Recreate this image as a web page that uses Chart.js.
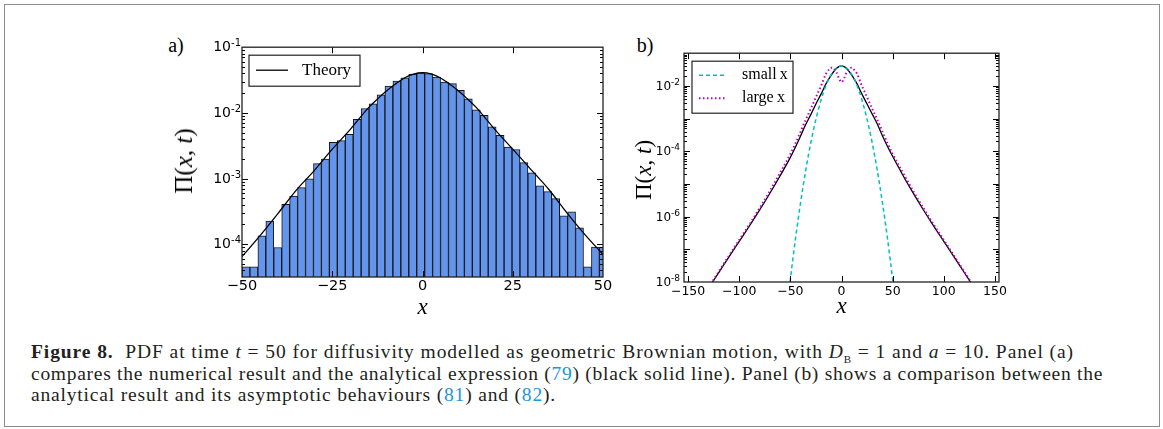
<!DOCTYPE html>
<html>
<head>
<meta charset="utf-8">
<script src="https://cdn.jsdelivr.net/npm/chart.js@4.4.1/dist/chart.umd.min.js"></script>
<style>
  body { margin: 0; width: 1163px; height: 429px; background: #fff; position: relative; overflow: hidden; }
  #frame { position: absolute; left: 4px; top: 4px; width: 1156px; height: 423px; border: 1.5px solid #8c8c8c; box-sizing: border-box; }
  canvas { position: absolute; }
  .plab { position: absolute; font: 20px 'Liberation Serif', serif; color: #000; transform: translate(-50%, -50%); }
  .ytitle { position: absolute; font-family: 'Liberation Serif', serif; white-space: nowrap; color: #000;
            transform: translate(-50%, -50%) rotate(-90deg); }
  #caption { position: absolute; left: 31px; top: 341px; font: 19.5px 'Liberation Serif', serif; color: #231f20; }
  #caption .cl { height: 21.7px; line-height: 21.7px; white-space: nowrap; }
  #caption .cl span.w { display: inline-block; }
  #caption .ref { color: #1b96d6; }
  #caption sub { font-size: 11px; line-height: 0; }
</style>
</head>
<body>
<div id="frame"></div>
<div class="plab" style="left:176px;top:45px">a)</div>
<div class="plab" style="left:645px;top:45px">b)</div>
<canvas id="chartA" width="467" height="285" style="left:150px;top:37px"></canvas>
<canvas id="chartB" width="413" height="279" style="left:600px;top:43px"></canvas>
<div class="ytitle" style="left:184px;top:161px;font-size:25px">Π(<i>x</i>, <i>t</i>)</div>
<div class="ytitle" style="left:644px;top:170px;font-size:23px">Π(<i>x</i>, <i>t</i>)</div>
<div id="caption">
  <div class="cl"><span class="w" data-w="1043"><b>Figure 8.</b>&nbsp; PDF at time <i>t</i> = 50 for diffusivity modelled as geometric Brownian motion, with <i>D</i><sub>B</sub> = 1 and <i>a</i> = 10. Panel (a)</span></div>
  <div class="cl"><span class="w" data-w="1072">compares the numerical result and the analytical expression (<span class="ref">79</span>) (black solid line). Panel (b) shows a comparison between the</span></div>
  <div class="cl"><span class="w" data-w="525">analytical result and its asymptotic behaviours (<span class="ref">81</span>) and (<span class="ref">82</span>).</span></div>
</div>
<script>
// panel (a): histogram of the simulated x at t = 50
const binCenters = [-48.9, -46.7, -44.5, -42.3, -40.1, -37.9, -35.7, -33.5, -31.3, -29.1, -26.9, -24.7,
    -22.5, -20.3, -18.1, -15.9, -13.7, -11.5, -9.3, -7.1, -4.9, -2.7, -0.5, 1.7, 3.9, 6.1, 8.3, 10.5,
    12.7, 14.9, 17.1, 19.3, 21.5, 23.7, 25.9, 28.1, 30.3, 32.5, 34.7, 36.9, 39.1, 41.3, 43.5, 45.7, 47.9, 50.1];
const binHeights = [4.5e-5, 4.5e-5, 1.34e-4, 2.24e-4, 8.9e-5, 4.04e-4, 5.42e-4, 7.26e-4, 9.86e-4, 1.69e-3,
    1.97e-3, 3.55e-3, 3.77e-3, 4.71e-3, 7.98e-3, 0.01164, 0.01371, 0.01884, 0.02558, 0.0305, 0.0343, 0.0391,
    0.0405, 0.0395, 0.0351, 0.0294, 0.0278, 0.0220, 0.01637, 0.01111, 9.2e-3, 6.10e-3, 4.54e-3, 3.01e-3,
    2.77e-3, 1.75e-3, 1.22e-3, 7.71e-4, 6.31e-4, 4.93e-4, 2.70e-4, 3.11e-4, 1.77e-4, 4.5e-5, 9.06e-5, 9.06e-5];

// analytical PDF (black line, both panels)
const theoryX = [-130, -120, -110, -100, -90, -80, -70, -60, -50, -45, -40, -35, -30, -25, -20, -15, -12.5, -10,
    -7.5, -5, -2.5, 0, 2.5, 5, 7.5, 10, 12.5, 15, 20, 25, 30, 35, 40, 45, 50, 60, 70, 80, 90, 100, 110, 120, 130];
const theoryY = [6.5e-9, 1.95e-8, 5.9e-8, 1.75e-7, 5.2e-7, 1.6e-6, 5.2e-6, 1.78e-5, 6.5e-5, 1.35e-4, 2.95e-4,
    6.6e-4, 1.32e-3, 2.8e-3, 5.6e-3, 0.0119, 0.0162, 0.0215, 0.0275, 0.034, 0.039, 0.041, 0.039, 0.034, 0.0275,
    0.0215, 0.0162, 0.0119, 5.6e-3, 2.8e-3, 1.38e-3, 6.8e-4, 3.0e-4, 1.4e-4, 7.0e-5, 1.85e-5, 5.3e-6, 1.62e-6,
    5.2e-7, 1.75e-7, 5.9e-8, 1.95e-8, 6.5e-9];

// panel (b): asymptotic forms
const smallX = [-55, -50, -45, -40, -35, -30, -25, -20, -15, -10, -5, 0, 5, 10, 15, 20, 25, 30, 35, 40, 45, 50, 55];
const smallY = [5.2e-10, 1.2e-8, 2.1e-7, 2.7e-6, 2.6e-5, 1.83e-4, 9.6e-4, 3.7e-3, 0.0106, 0.0225, 0.0352, 0.041,
    0.0352, 0.0225, 0.0106, 3.7e-3, 9.6e-4, 1.83e-4, 2.6e-5, 2.7e-6, 2.1e-7, 1.2e-8, 5.2e-10];
const largeX = [-130, -120, -110, -100, -90, -80, -70, -60, -50, -45, -40, -35, -30, -25, -20, -15, -12.5, -10,
    -7.5, -5, -2.5, 0, 2.5, 5, 7.5, 10, 12.5, 15, 20, 25, 30, 35, 40, 45, 50, 60, 70, 80, 90, 100, 110, 120, 130];
const largeY = [6.8e-9, 2.07e-8, 6.4e-8, 1.93e-7, 5.8e-7, 1.84e-6, 6.1e-6, 2.2e-5, 8.3e-5, 1.75e-4, 4.0e-4, 9.2e-4,
    2.0e-3, 4.5e-3, 0.010, 0.024, 0.031, 0.036, 0.034, 0.026, 0.017, 0.013, 0.017, 0.026, 0.034, 0.036, 0.031,
    0.024, 0.010, 4.5e-3, 2.0e-3, 9.2e-4, 4.0e-4, 1.75e-4, 8.3e-5, 2.2e-5, 6.1e-6, 1.84e-6, 5.8e-7, 1.93e-7,
    6.4e-8, 2.07e-8, 6.8e-9];

const xTicksA = [-50, -25, 0, 25, 50];
const xTicksB = [-150, -100, -50, 0, 50, 100, 150];

// spread each caption line out to the width it has in the figure
document.querySelectorAll('#caption .w').forEach(el => {
    const w = el.getBoundingClientRect().width;
    const n = el.textContent.length;
    el.style.letterSpacing = ((el.dataset.w - w) / n) + 'px';
});

function pairs(xs, ys) {
    return xs.map((x, i) => ({ x, y: ys[i] }));
}

function isPow10(v) {
    const l = Math.log10(v);
    return Math.abs(l - Math.round(l)) < 1e-6;
}

const minusLabel = v => (v < 0 ? '\u2212' + Math.abs(v) : String(v));

// inward ticks on all four sides + black frame, matplotlib style
const axisDecor = {
    id: 'axisDecor',
    afterDatasetsDraw(chart, args, opts) {
        const { ctx, chartArea: a, scales: { x, y } } = chart;
        ctx.save();
        ctx.strokeStyle = '#000';
        ctx.lineWidth = 1;
        ctx.beginPath();
        opts.xTicks.forEach(v => {
            if (v <= x.min || v >= x.max) return;
            const px = Math.round(x.getPixelForValue(v)) + 0.5;
            ctx.moveTo(px, a.bottom); ctx.lineTo(px, a.bottom - 6);
            ctx.moveTo(px, a.top); ctx.lineTo(px, a.top + 6);
        });
        y.ticks.forEach(t => {
            const v = t.value;
            if (v <= y.min * 1.0001 || v >= y.max * 0.9999) return;
            const l = Math.log10(v);
            const mant = v / Math.pow(10, Math.floor(l + 1e-9));
            if (Math.abs(mant - Math.round(mant)) > 1e-6) return;
            const len = isPow10(v) ? 6 : 3;
            const py = Math.round(y.getPixelForValue(v)) + 0.5;
            ctx.moveTo(a.left, py); ctx.lineTo(a.left + len, py);
            ctx.moveTo(a.right, py); ctx.lineTo(a.right - len, py);
        });
        ctx.stroke();
        ctx.lineWidth = 1.3;
        ctx.strokeStyle = '#222';
        ctx.strokeRect(a.left, a.top, a.width, a.height);
        ctx.restore();
    }
};

// y tick labels as 10 with a raised exponent
const powLabels = {
    id: 'powLabels',
    afterDraw(chart, args, o) {
        const { ctx, chartArea: a, scales: { y } } = chart;
        ctx.save();
        ctx.fillStyle = '#000';
        ctx.textAlign = 'right';
        ctx.textBaseline = 'alphabetic';
        y.ticks.forEach(t => {
            const v = t.value;
            if (!isPow10(v)) return;
            const e = Math.round(Math.log10(v));
            if (e % o.every !== 0) return;
            const py = y.getPixelForValue(v);
            const right = a.left - o.pad;
            const expTxt = String(e);
            ctx.font = o.expFont;
            const ew = ctx.measureText(expTxt).width;
            ctx.fillText(expTxt, right, py + o.expDy);
            ctx.font = o.baseFont;
            ctx.fillText('10', right - ew, py + o.baseDy);
        });
        ctx.restore();
    }
};

// legend with a box round it
const boxLegend = {
    id: 'boxLegend',
    afterDraw(chart, args, o) {
        if (!o.items) return;
        const { ctx, chartArea: a } = chart;
        const bx = a.left + o.x, by = a.top + o.y;
        ctx.save();
        ctx.fillStyle = '#fff';
        ctx.fillRect(bx, by, o.w, o.h);
        ctx.strokeStyle = '#222';
        ctx.lineWidth = 1.2;
        ctx.strokeRect(bx, by, o.w, o.h);
        o.items.forEach((idx, i) => {
            const ds = chart.data.datasets[idx];
            const ly = by + o.rows[i];
            ctx.strokeStyle = ds.borderColor;
            ctx.lineWidth = ds.borderWidth;
            ctx.setLineDash(ds.borderDash || []);
            ctx.beginPath();
            ctx.moveTo(bx + o.line[0], ly);
            ctx.lineTo(bx + o.line[1], ly);
            ctx.stroke();
            ctx.setLineDash([]);
            ctx.fillStyle = '#000';
            ctx.font = o.font;
            ctx.textBaseline = 'middle';
            ctx.fillText(ds.label, bx + o.textX, ly);
        });
        ctx.restore();
    }
};

const tickFontA = { family: 'DejaVu Sans', size: 14.5 };
const tickFontB = { family: 'DejaVu Sans', size: 12.5 };
const titleFont = { family: 'Liberation Serif', style: 'italic', size: 23 };

new Chart(document.getElementById('chartA'), {
    type: 'bar',
    data: {
        datasets: [{
            type: 'line',
            label: 'Theory',
            data: pairs(theoryX, theoryY),
            borderColor: '#000',
            borderWidth: 1.3,
            pointRadius: 0,
            cubicInterpolationMode: 'monotone',
            order: 0
        }, {
            type: 'bar',
            label: 'hist',
            data: pairs(binCenters, binHeights),
            backgroundColor: '#6495ed',
            borderColor: '#151515',
            borderWidth: 1,
            barPercentage: 1,
            categoryPercentage: 1,
            order: 1
        }]
    },
    options: {
        responsive: false,
        animation: false,
        layout: { padding: { top: 10, right: 14, left: 0, bottom: 0 } },
        plugins: {
            legend: { display: false },
            tooltip: { enabled: false },
            axisDecor: { xTicks: xTicksA },
            powLabels: { every: 1, pad: 1, baseFont: '14px "DejaVu Sans"', expFont: '10px "DejaVu Sans"', baseDy: 4, expDy: -1 },
            boxLegend: { items: [0], x: 7, y: 8, w: 111, h: 31, rows: [15], line: [7, 39], textX: 53, font: '17px "Liberation Serif"' }
        },
        scales: {
            x: {
                type: 'linear',
                min: -50,
                max: 50,
                offset: false,
                grid: { display: false, drawTicks: false },
                border: { display: false },
                afterBuildTicks: s => { s.ticks = xTicksA.map(v => ({ value: v })); },
                afterFit: s => { s.height = 45; },
                ticks: { color: '#000', font: tickFontA, padding: 1, maxRotation: 0, callback: minusLabel },
                title: { display: true, text: 'x', color: '#000', font: titleFont, padding: { top: 0, bottom: 0 } }
            },
            y: {
                type: 'logarithmic',
                min: Math.pow(10, -4.5),
                max: 0.1,
                grid: { display: false, drawTicks: false },
                border: { display: false },
                afterFit: s => { s.width = 92; },
                ticks: { autoSkip: false, callback: () => '' }
            }
        }
    },
    plugins: [axisDecor, powLabels, boxLegend]
});

new Chart(document.getElementById('chartB'), {
    type: 'line',
    data: {
        datasets: [{
            label: 'Theory',
            data: pairs(theoryX, theoryY),
            borderColor: '#000',
            borderWidth: 1.3,
            pointRadius: 0,
            cubicInterpolationMode: 'monotone',
            order: 3
        }, {
            label: 'small\u2009x',
            data: pairs(smallX, smallY),
            borderColor: '#00bfbf',
            borderWidth: 1.5,
            borderDash: [4, 3],
            pointRadius: 0,
            cubicInterpolationMode: 'monotone',
            order: 2
        }, {
            label: 'large\u2009x',
            data: pairs(largeX, largeY),
            borderColor: '#bf00bf',
            borderWidth: 2,
            borderDash: [1.5, 2.5],
            pointRadius: 0,
            cubicInterpolationMode: 'monotone',
            order: 1
        }]
    },
    options: {
        responsive: false,
        animation: false,
        layout: { padding: { top: 10, right: 14, left: 0, bottom: 0 } },
        plugins: {
            legend: { display: false },
            tooltip: { enabled: false },
            axisDecor: { xTicks: xTicksB },
            powLabels: { every: 2, pad: 4, baseFont: '12px "DejaVu Sans"', expFont: '9px "DejaVu Sans"', baseDy: 4, expDy: -1 },
            boxLegend: { items: [1, 2], x: 8, y: 8, w: 101, h: 52, rows: [14, 37], line: [7, 35], textX: 50, font: '16px "Liberation Serif"' }
        },
        scales: {
            x: {
                type: 'linear',
                min: -154,
                max: 154,
                grid: { display: false, drawTicks: false },
                border: { display: false },
                afterBuildTicks: s => { s.ticks = xTicksB.map(v => ({ value: v })); },
                afterFit: s => { s.height = 40; },
                ticks: { color: '#000', font: tickFontB, padding: 2, maxRotation: 0, callback: minusLabel },
                title: { display: true, text: 'x', color: '#000', font: titleFont, padding: { top: 0, bottom: 1 } }
            },
            y: {
                type: 'logarithmic',
                min: 1e-8,
                max: 0.1,
                grid: { display: false, drawTicks: false },
                border: { display: false },
                afterFit: s => { s.width = 84; },
                ticks: { autoSkip: false, callback: () => '' }
            }
        }
    },
    plugins: [axisDecor, powLabels, boxLegend]
});
</script>
</body>
</html>
